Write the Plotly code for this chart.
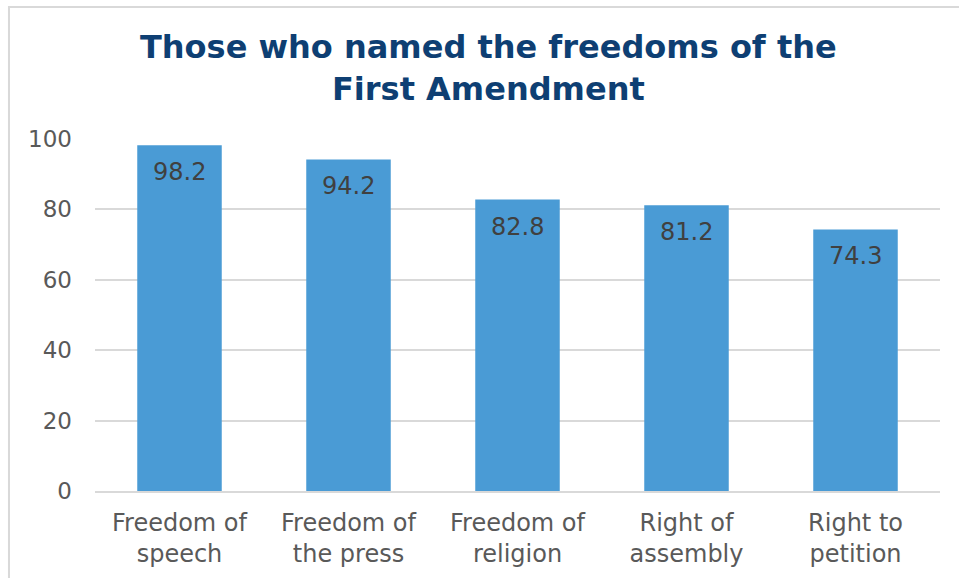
import plotly.graph_objects as go

categories = ["Freedom of<br>speech", "Freedom of<br>the press", "Freedom of<br>religion",
              "Right of<br>assembly", "Right to<br>petition"]
values = [98.2, 94.2, 82.8, 81.2, 74.3]
y_ticks = [0, 20, 40, 60, 80, 100]
title_text = "<b>Those who named the freedoms of the<br>First Amendment</b>"

BAR = "#4A9BD5"
FONT = "DejaVu Sans"

fig = go.Figure()
fig.add_trace(go.Bar(
    x=categories, y=values,
    marker=dict(color=BAR, line=dict(width=0)),
    width=0.5,
    hoverinfo="x+y",
))

for c, v in zip(categories, values):
    fig.add_annotation(
        x=c, y=v, text=f"{v:.1f}", showarrow=False,
        yanchor="middle", yshift=-27,
        font=dict(family=FONT, size=24, color="#404040"),
    )

# chart title, centred above the plot
fig.add_annotation(
    text=title_text, showarrow=False,
    xref="paper", yref="paper", x=(488 - 95) / 845, y=(491 - 68) / 352,
    xanchor="center", yanchor="middle",
    font=dict(family=FONT, size=32, color="#0E3F73"),
)

# light frame around the whole chart
fig.add_shape(
    type="rect", xref="paper", yref="paper",
    x0=-0.1018, x1=1.04, y0=-0.3, y1=1.375,
    line=dict(color="#D9D9D9", width=2), fillcolor="rgba(0,0,0,0)", layer="below",
)

fig.update_layout(
    width=959, height=578,
    margin=dict(l=95, r=19, t=139, b=87),
    paper_bgcolor="white", plot_bgcolor="white",
    showlegend=False,
    xaxis=dict(
        showgrid=False, showline=True, linecolor="#D9D9D9", linewidth=2,
        ticks="", tickfont=dict(family=FONT, size=24, color="#595959"),
        ticklabelstandoff=9, fixedrange=True, automargin=False,
    ),
    yaxis=dict(
        range=[0, 100], tickvals=y_ticks, showgrid=True, gridcolor="#D9D9D9",
        gridwidth=1.5, zeroline=False, showline=False, ticks="",
        tickfont=dict(family=FONT, size=23, color="#595959"),
        ticklabelstandoff=22, automargin=False,
    ),
    bargap=0.5,
)

fig.write_html("out.html")
